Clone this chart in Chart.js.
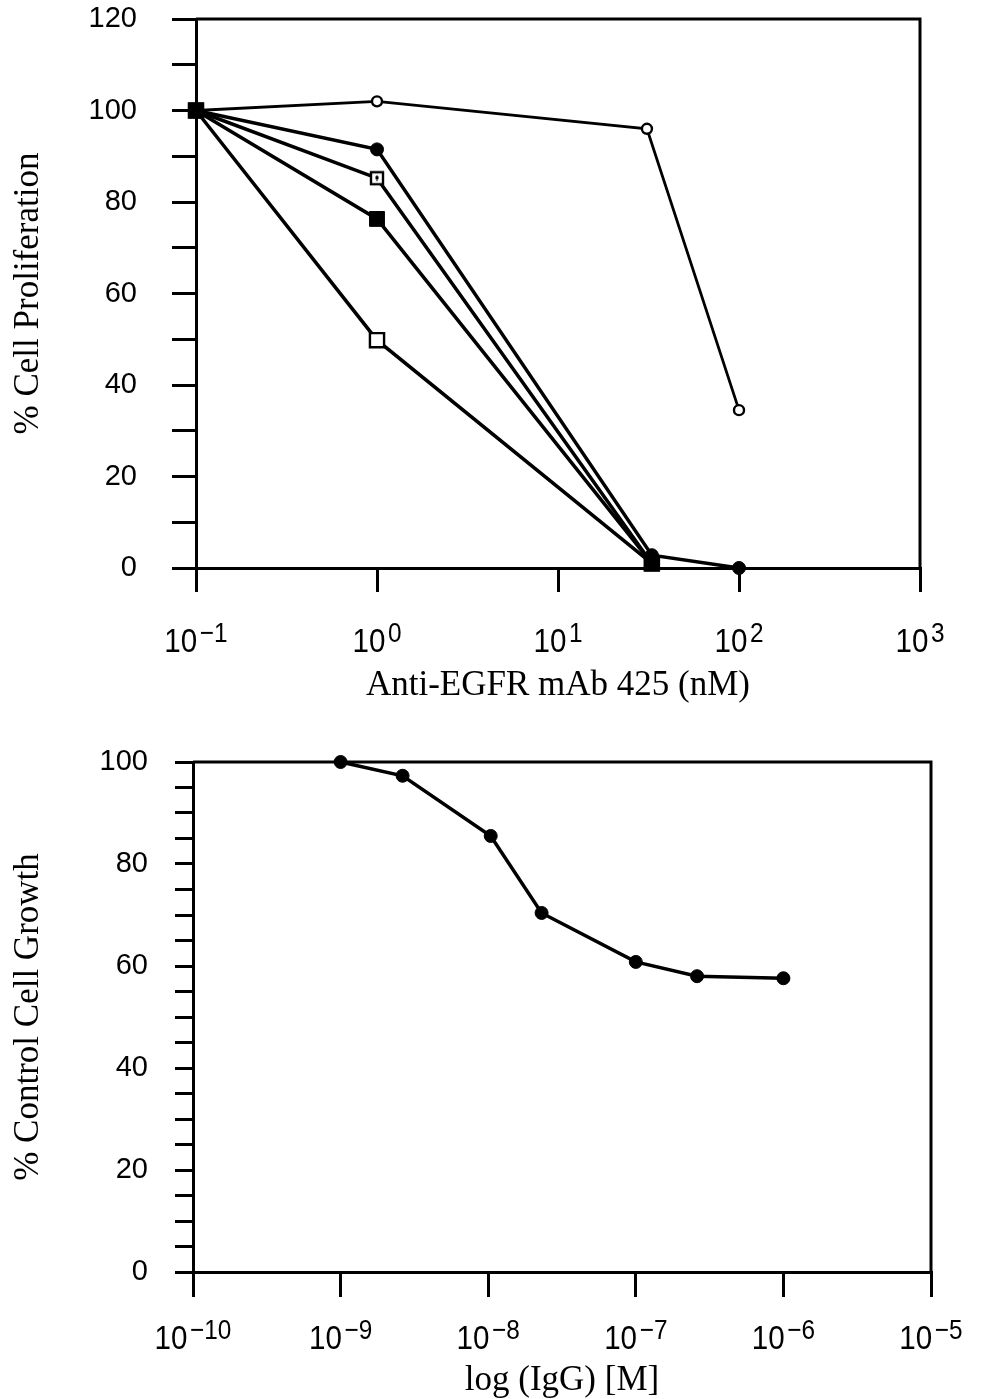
<!DOCTYPE html>
<html>
<head>
<meta charset="utf-8">
<script src="https://cdn.jsdelivr.net/npm/chart.js@4.4.0/dist/chart.umd.min.js"></script>
<style>
html, body { margin: 0; padding: 0; background: #fff; overflow: hidden; }
canvas { display: block; }
</style>
</head>
<body>
<canvas id="topChart" width="988" height="720"></canvas>
<canvas id="bottomChart" width="988" height="690"></canvas>
<script>
// Top panel: % Cell Proliferation vs Anti-EGFR mAb 425 (nM)
const topXTicks = [0.1, 1, 10, 100, 1000];

const openCircleX = [0.1, 1, 31, 100];
const openCircleY = [100, 102, 96, 34.5];

const filledCircleX = [0.1, 1, 33, 100];
const filledCircleY = [100, 91.5, 2.8, 0];

const dottedSquareX = [0.1, 1, 33];
const dottedSquareY = [100, 85.2, 1];

const filledSquareX = [0.1, 1, 33];
const filledSquareY = [100, 76.3, 1];

const openSquareX = [0.1, 1, 33];
const openSquareY = [100, 49.8, 1];

// Bottom panel: % Control Cell Growth vs log (IgG) [M]
const bottomXTicks = [1e-10, 1e-9, 1e-8, 1e-7, 1e-6, 1e-5];
const iggX = [1e-9, 2.63e-9, 1.04e-8, 2.3e-8, 1e-7, 2.6e-7, 1e-6];
const iggY = [100, 97.3, 85.5, 70.4, 60.8, 58.0, 57.6];

Chart.defaults.color = '#000';
Chart.defaults.font.family = 'Liberation Sans, Arial, sans-serif';

function pts(xs, ys) {
    return xs.map((x, i) => ({ x: x, y: ys[i] }));
}

// open square with a small mark in the middle
function dottedSquareIcon() {
    const c = document.createElement('canvas');
    c.width = 16;
    c.height = 16;
    const g = c.getContext('2d');
    g.fillStyle = '#fff';
    g.fillRect(1, 1, 14, 14);
    g.strokeStyle = '#000';
    g.lineWidth = 2.4;
    g.strokeRect(2, 2, 12, 12);
    g.fillStyle = '#000';
    g.fillRect(6.5, 6, 3, 3);
    g.fillRect(7.5, 5, 1, 6);
    return c;
}

// box frame (top + right) and 10^n tick labels
const frameAndLabels = {
    id: 'frameAndLabels',
    beforeDatasetsDraw(chart) {
        const { ctx, chartArea: a } = chart;
        ctx.save();
        ctx.strokeStyle = '#000';
        ctx.lineWidth = 3;
        ctx.beginPath();
        ctx.moveTo(a.left, a.top);
        ctx.lineTo(a.right, a.top);
        ctx.lineTo(a.right, a.bottom);
        ctx.stroke();
        ctx.restore();
    },
    afterDraw(chart, args, opts) {
        const { ctx, chartArea: a } = chart;
        const sc = chart.scales.x;
        ctx.save();
        ctx.fillStyle = '#000';
        ctx.textBaseline = 'alphabetic';
        ctx.textAlign = 'left';
        opts.ticks.forEach(v => {
            const exp = String(Math.round(Math.log10(v))).replace('-', '\u2212');
            const x = sc.getPixelForValue(v);
            const y = a.bottom + opts.labelOffset;
            ctx.save();
            ctx.translate(x, y);
            ctx.scale(0.87, 1);
            ctx.font = '34px "Liberation Sans", Arial, sans-serif';
            const wBase = ctx.measureText('10').width;
            ctx.font = '28px "Liberation Sans", Arial, sans-serif';
            const wExp = ctx.measureText(exp).width;
            const gap = 3;
            const start = -(wBase + gap + wExp) / 2;
            ctx.font = '34px "Liberation Sans", Arial, sans-serif';
            ctx.fillText('10', start, 0);
            ctx.font = '28px "Liberation Sans", Arial, sans-serif';
            ctx.fillText(exp, start + wBase + gap, -10);
            ctx.restore();
        });
        ctx.restore();
    }
};

const titleFont = { family: 'Liberation Serif, Times New Roman, serif', size: 35 };

const topChart = new Chart(document.getElementById('topChart'), {
    type: 'scatter',
    data: {
        datasets: [
            {
                label: 'filled square',
                data: pts(filledSquareX, filledSquareY),
                showLine: true,
                borderColor: '#000',
                borderWidth: 3.5,
                pointStyle: 'rect',
                pointRadius: 10.5,
                pointBackgroundColor: '#000',
                pointBorderColor: '#000',
                pointBorderWidth: 1
            },
            {
                label: 'open circle',
                data: pts(openCircleX, openCircleY),
                showLine: true,
                borderColor: '#000',
                borderWidth: 2.8,
                pointStyle: 'circle',
                pointRadius: 5,
                pointBackgroundColor: '#fff',
                pointBorderColor: '#000',
                pointBorderWidth: 2.4
            },
            {
                label: 'filled circle',
                data: pts(filledCircleX, filledCircleY),
                showLine: true,
                borderColor: '#000',
                borderWidth: 3.5,
                pointStyle: 'circle',
                pointRadius: 6.5,
                pointBackgroundColor: '#000',
                pointBorderColor: '#000',
                pointBorderWidth: 1
            },
            {
                label: 'dotted square',
                data: pts(dottedSquareX, dottedSquareY),
                showLine: true,
                borderColor: '#000',
                borderWidth: 3.5,
                pointStyle: dottedSquareIcon(),
                pointRadius: 8
            },
            {
                label: 'open square',
                data: pts(openSquareX, openSquareY),
                showLine: true,
                borderColor: '#000',
                borderWidth: 3.5,
                pointStyle: 'rect',
                pointRadius: 10,
                pointBackgroundColor: '#fff',
                pointBorderColor: '#000',
                pointBorderWidth: 2.4
            }
        ]
    },
    options: {
        responsive: false,
        animation: false,
        clip: false,
        layout: { padding: { left: 0, right: 68, top: 19, bottom: 0 } },
        plugins: {
            legend: { display: false },
            tooltip: { enabled: false },
            frameAndLabels: { ticks: topXTicks, labelOffset: 84 }
        },
        scales: {
            x: {
                type: 'logarithmic',
                position: 'bottom',
                min: 0.1,
                max: 1000,
                afterBuildTicks: s => { s.ticks = topXTicks.map(v => ({ value: v })); },
                afterFit: s => { s.height = 152; s.paddingLeft = 0; s.paddingRight = 0; },
                ticks: { display: false },
                grid: { drawOnChartArea: false, drawTicks: true, tickLength: 24, color: '#000', lineWidth: 3 },
                border: { display: true, color: '#000', width: 3 },
                title: {
                    display: true,
                    text: 'Anti-EGFR mAb 425 (nM)',
                    font: titleFont,
                    color: '#000',
                    padding: { top: 0, bottom: 13 }
                }
            },
            y: {
                type: 'linear',
                min: 0,
                max: 120,
                afterFit: s => { s.width = 196; s.paddingTop = 0; s.paddingBottom = 0; },
                ticks: {
                    stepSize: 10,
                    autoSkip: false,
                    padding: 35,
                    font: { size: 29 },
                    color: '#000',
                    callback: v => (v % 20 === 0 ? v : '')
                },
                grid: { drawOnChartArea: false, drawTicks: true, tickLength: 24, color: '#000', lineWidth: 3 },
                border: { display: true, color: '#000', width: 3 },
                title: {
                    display: true,
                    text: '% Cell Proliferation',
                    font: titleFont,
                    color: '#000',
                    padding: { top: 8, bottom: 0 }
                }
            }
        }
    },
    plugins: [frameAndLabels]
});

const bottomChart = new Chart(document.getElementById('bottomChart'), {
    type: 'scatter',
    data: {
        datasets: [{
            label: 'IgG',
            data: pts(iggX, iggY),
            showLine: true,
            borderColor: '#000',
            borderWidth: 3.5,
            pointStyle: 'circle',
            pointRadius: 6.5,
            pointBackgroundColor: '#000',
            pointBorderColor: '#000',
            pointBorderWidth: 1
        }]
    },
    options: {
        responsive: false,
        animation: false,
        clip: false,
        layout: { padding: { left: 0, right: 57, top: 42, bottom: 0 } },
        plugins: {
            legend: { display: false },
            tooltip: { enabled: false },
            frameAndLabels: { ticks: bottomXTicks, labelOffset: 77 }
        },
        scales: {
            x: {
                type: 'logarithmic',
                position: 'bottom',
                min: 1e-10,
                max: 1e-5,
                afterBuildTicks: s => { s.ticks = bottomXTicks.map(v => ({ value: v })); },
                afterFit: s => { s.height = 138; s.paddingLeft = 0; s.paddingRight = 0; },
                ticks: { display: false },
                grid: { drawOnChartArea: false, drawTicks: true, tickLength: 25, color: '#000', lineWidth: 3 },
                border: { display: true, color: '#000', width: 3 },
                title: {
                    display: true,
                    text: 'log (IgG) [M]',
                    font: titleFont,
                    color: '#000',
                    padding: { top: 0, bottom: 8 }
                }
            },
            y: {
                type: 'linear',
                min: 0,
                max: 100,
                afterFit: s => { s.width = 193; s.paddingTop = 0; s.paddingBottom = 0; },
                ticks: {
                    stepSize: 5,
                    autoSkip: false,
                    padding: 27,
                    font: { size: 29 },
                    color: '#000',
                    callback: v => (v % 20 === 0 ? v : '')
                },
                grid: { drawOnChartArea: false, drawTicks: true, tickLength: 18, color: '#000', lineWidth: 3 },
                border: { display: true, color: '#000', width: 3 },
                title: {
                    display: true,
                    text: '% Control Cell Growth',
                    font: titleFont,
                    color: '#000',
                    padding: { top: 8, bottom: 0 }
                }
            }
        }
    },
    plugins: [frameAndLabels]
});
</script>
</body>
</html>
